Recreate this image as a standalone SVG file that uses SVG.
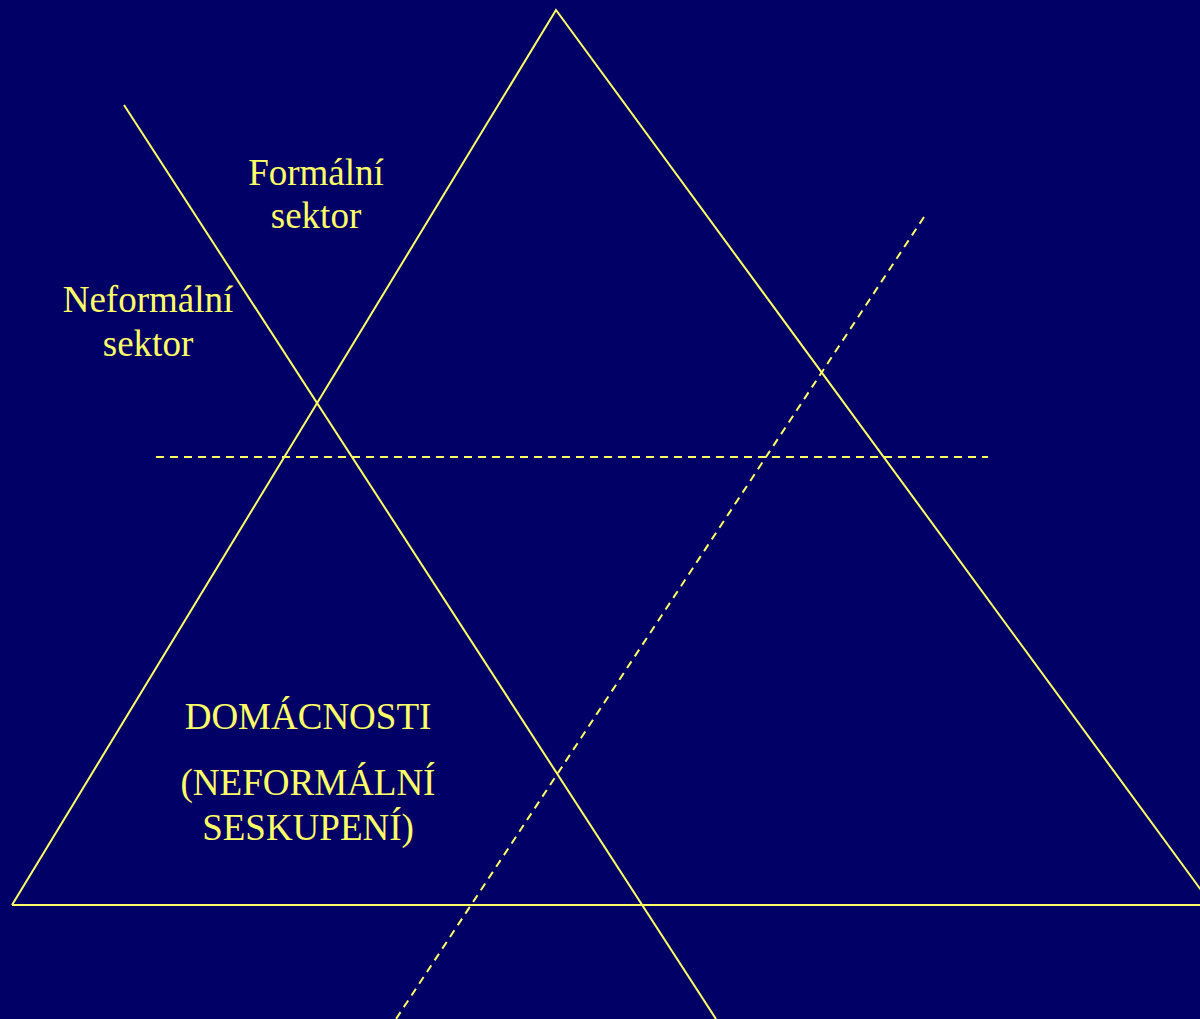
<svg xmlns="http://www.w3.org/2000/svg" width="1200" height="1019" viewBox="0 0 1200 1019">
<style>
.s{stroke:#FFFF66;stroke-width:2;fill:none}
.d{stroke:#FFFF66;stroke-width:2;fill:none;stroke-dasharray:8 6}
text{font-family:"Liberation Serif","Times New Roman",serif;font-size:37px;fill:#FFFF66;text-anchor:middle}
</style>
<rect width="1200" height="1019" fill="#000066"/>
<g id="connectors">
<polyline class="s" points="12,905 556,10 1212,905"/>
<line class="s" x1="12" y1="905" x2="1200" y2="905"/>
<line class="s" x1="124" y1="105" x2="716" y2="1019"/>
<line class="d" x1="156" y1="457" x2="988" y2="457"/>
<line class="d" x1="924" y1="217" x2="396" y2="1019"/>
</g>
<g id="formal"><text x="316" y="185">Formální</text><text x="316" y="228">sektor</text></g>
<g id="neformal"><text x="148" y="312">Neformální</text><text x="148" y="356">sektor</text></g>
<g id="domacnosti"><text x="308" y="729">DOMÁCNOSTI</text><text x="308" y="795">(NEFORMÁLNÍ</text><text x="308" y="840">SESKUPENÍ)</text></g>
</svg>
